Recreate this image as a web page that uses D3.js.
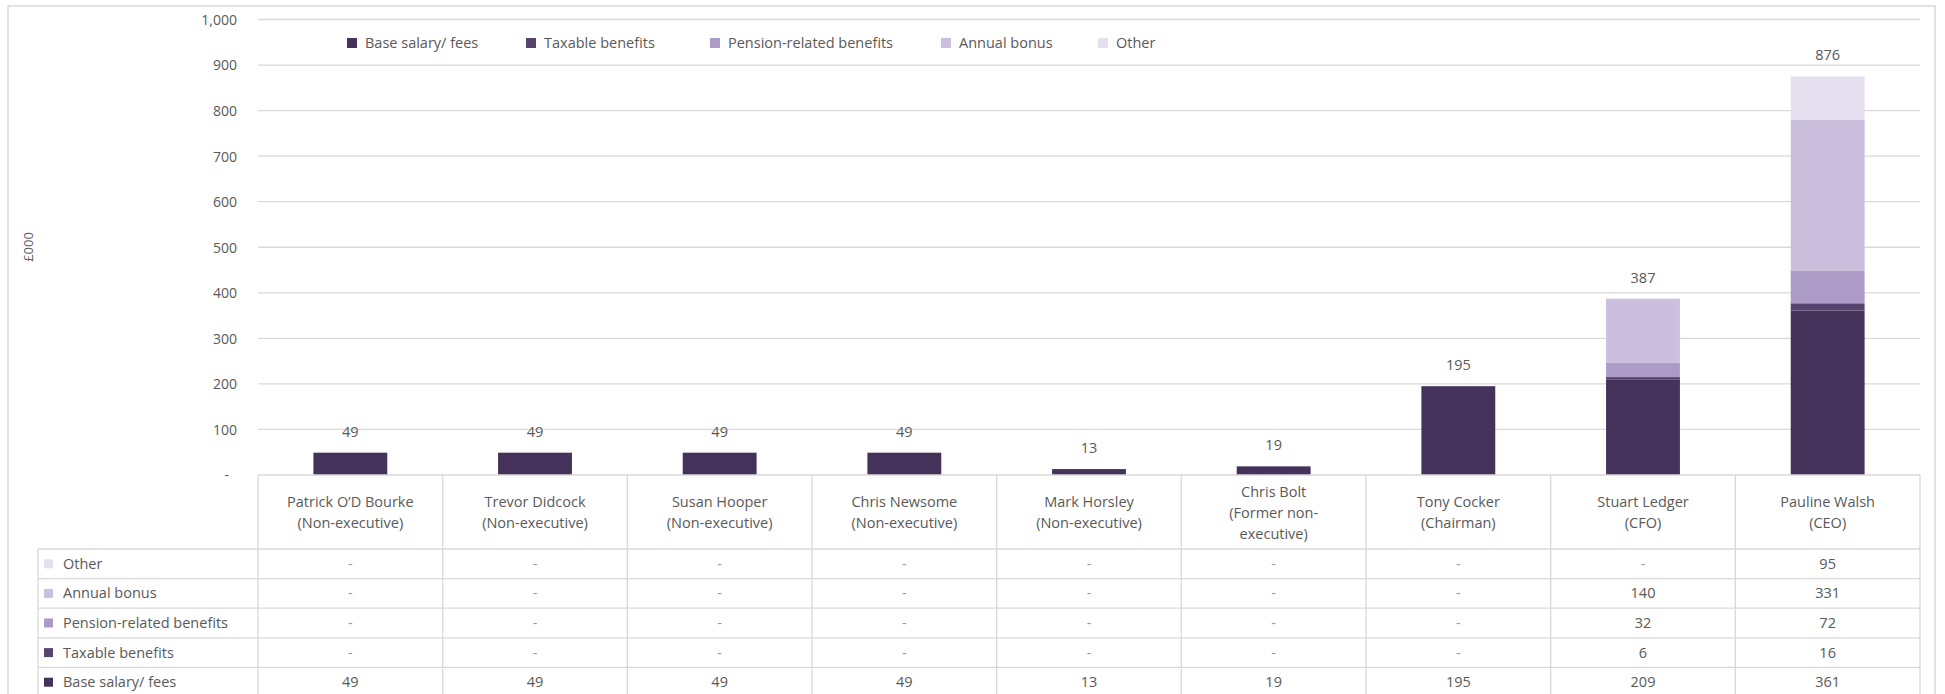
<!DOCTYPE html>
<html><head><meta charset="utf-8">
<script src="https://cdn.jsdelivr.net/npm/d3@7"></script>
<style>
html,body{margin:0;padding:0;background:#fff;}
svg{display:block;font-family:"Open Sans",Lato,sans-serif;}
</style></head>
<body><svg id="c" width="1945" height="694"></svg>
<script>
const names = [
  ["Patrick O\u2019D Bourke","(Non-executive)"],
  ["Trevor Didcock","(Non-executive)"],
  ["Susan Hooper","(Non-executive)"],
  ["Chris Newsome","(Non-executive)"],
  ["Mark Horsley","(Non-executive)"],
  ["Chris Bolt","(Former non-","executive)"],
  ["Tony Cocker","(Chairman)"],
  ["Stuart Ledger","(CFO)"],
  ["Pauline Walsh","(CEO)"]
];
const baseSalary   = [49,49,49,49,13,19,195,209,361];
const taxable      = [0,0,0,0,0,0,0,6,16];
const pension      = [0,0,0,0,0,0,0,32,72];
const annualBonus  = [0,0,0,0,0,0,0,140,331];
const other        = [0,0,0,0,0,0,0,0,95];
const totals       = [49,49,49,49,13,19,195,387,876];
const seriesNames  = ["Base salary/ fees","Taxable benefits","Pension-related benefits","Annual bonus","Other"];
const seriesColors = ["#45325a","#57436e","#ab9bc6","#cbbfde","#e5dff0"];
const yTicks = [0,100,200,300,400,500,600,700,800,900,1000];

const seriesVals = [baseSalary,taxable,pension,annualBonus,other];
const svg = d3.select("#c");
const L = 258, R = 1920, T = 19.5, B = 475;
const x = d3.scaleBand().domain(d3.range(names.length)).range([L,R]).paddingInner(0.6).paddingOuter(0.3);
const xc = d3.scaleBand().domain(d3.range(names.length)).range([L,R]);
const y = d3.scaleLinear().domain([0,1000]).range([B,T]);
const grid = "#d9d9d9", txt = "#595959";
const fs = 14.5;

// outer border
svg.append("rect").attr("x",8).attr("y",6).attr("width",1927).attr("height",700)
  .attr("fill","none").attr("stroke","#d9d9d9").attr("stroke-width",1.5);

// gridlines
svg.append("g").selectAll("line").data(yTicks.filter(d=>d>0)).join("line")
  .attr("x1",L).attr("x2",R).attr("y1",d=>y(d)).attr("y2",d=>y(d))
  .attr("stroke",grid).attr("stroke-width",1.3);

// y axis labels
const yAxis = d3.axisLeft(y).tickValues(yTicks).tickSize(0).tickPadding(0)
  .tickFormat(d=> d===0 ? "-" : d3.format(",")(d));
const ga = svg.append("g").attr("transform",`translate(237,0)`).call(yAxis);
ga.select(".domain").remove();
ga.selectAll("text").attr("fill",txt).attr("font-size",14).attr("font-family","\"Open Sans\",sans-serif")
  .attr("dy","0.35em").attr("x",d=>d===0?-8:0);

// y title
svg.append("text").attr("transform","translate(28,247) rotate(-90)")
  .attr("text-anchor","middle").attr("dy","0.35em").attr("fill",txt).attr("font-size",13).text("\u00a3000");

// stacked bars
const rows = names.map((n,i)=>{const o={i};seriesNames.forEach((s,k)=>o[s]=seriesVals[k][i]);return o;});
const stack = d3.stack().keys(seriesNames)(rows);
svg.append("g").selectAll("g").data(stack).join("g").attr("fill",(d,k)=>seriesColors[k])
  .selectAll("rect").data(d=>d).join("rect")
  .attr("x",d=>x(d.data.i)).attr("width",x.bandwidth())
  .attr("y",d=>y(d[1])).attr("height",d=>y(d[0])-y(d[1]));

// total labels
svg.append("g").selectAll("text").data(totals).join("text")
  .attr("x",(d,i)=>x(i)+x.bandwidth()/2).attr("y",d=>y(d)-21)
  .attr("text-anchor","middle").attr("dy","0.35em").attr("fill",txt).attr("font-size",fs)
  .text(d=>d);

// legend
const legX = [347,526,710,941,1098];
const lg = svg.append("g").selectAll("g").data(seriesNames).join("g")
  .attr("transform",(d,i)=>`translate(${legX[i]},43)`);
lg.append("rect").attr("x",0).attr("y",-5).attr("width",10).attr("height",10).attr("fill",(d,i)=>seriesColors[i]);
lg.append("text").attr("x",18).attr("dy","0.35em").attr("fill",txt).attr("font-size",fs).text(d=>d);

// data table
const headTop = B, headBot = 549, rowH = 29.6;
const tableRows = [4,3,2,1,0]; // Other, Annual, Pension, Taxable, Base
const tg = svg.append("g");
tg.append("line").attr("x1",L).attr("x2",R).attr("y1",headTop).attr("y2",headTop).attr("stroke",grid).attr("stroke-width",1.3);
d3.range(6).forEach(r=>{
  const yy = headBot + r*rowH;
  tg.append("line").attr("x1",38).attr("x2",R).attr("y1",yy).attr("y2",yy).attr("stroke",grid).attr("stroke-width",1.3);
});
d3.range(names.length+1).forEach(c=>{
  const xx = L + c*xc.step();
  tg.append("line").attr("x1",xx).attr("x2",xx).attr("y1",headTop).attr("y2",700).attr("stroke",grid).attr("stroke-width",1.3);
});
tg.append("line").attr("x1",38).attr("x2",38).attr("y1",headBot).attr("y2",700).attr("stroke",grid).attr("stroke-width",1.3);

// header text
names.forEach((n,i)=>{
  const cx = xc(i)+xc.bandwidth()/2;
  const lh = 21;
  const y0 = n.length===3 ? 492 : 502;
  n.forEach((line,j)=>{
    tg.append("text").attr("x",cx).attr("y",y0+j*lh).attr("dy","0.35em").attr("text-anchor","middle")
      .attr("fill",txt).attr("font-size",fs).text(line);
  });
});
// row labels and values
tableRows.forEach((k,r)=>{
  const cy = headBot + r*rowH + rowH/2;
  tg.append("rect").attr("x",44).attr("y",cy-4.5).attr("width",9).attr("height",9).attr("fill",seriesColors[k]);
  tg.append("text").attr("x",63).attr("y",cy).attr("dy","0.35em").attr("fill",txt).attr("font-size",fs).text(seriesNames[k]);
  seriesVals[k].forEach((v,i)=>{
    tg.append("text").attr("x",xc(i)+xc.bandwidth()/2).attr("y",cy).attr("dy","0.35em").attr("text-anchor","middle")
      .attr("fill", v===0 ? "#9a9a9a" : txt).attr("font-size",fs).text(v===0?"-":v);
  });
});
</script></body></html>
